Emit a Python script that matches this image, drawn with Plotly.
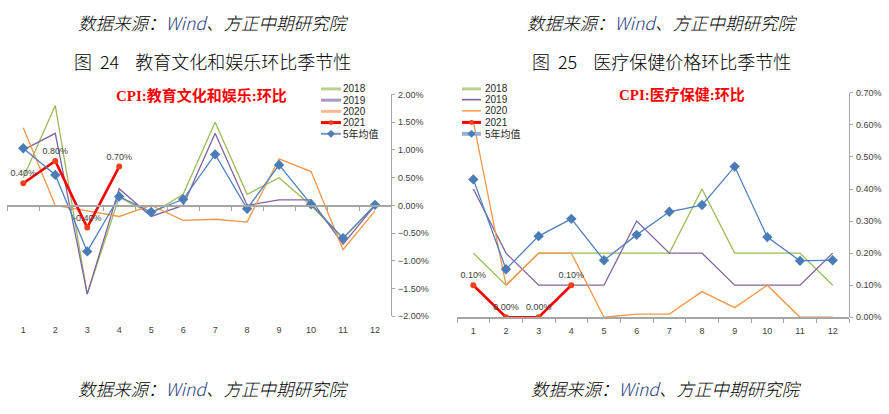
import plotly.graph_objects as go

W, H = 889, 414

months = list(range(1, 13))
month_labels = [str(m) for m in months]
boundaries = [m + 0.5 for m in range(0, 13)]

# 图24 教育文化和娱乐 环比 (%)
edu_2018 = [0.5, 1.8, -1.6, 0.15, -0.15, 0.2, 1.5, 0.2, 0.5, 0.0, -0.6, 0.0]
edu_2019 = [1.0, 1.3, -1.6, 0.3, -0.2, 0.0, 1.3, 0.0, 0.1, 0.1, -0.7, 0.0]
edu_2020 = [1.4, 0.0, -0.1, -0.2, 0.0, -0.27, -0.25, -0.3, 0.84, 0.61, -0.8, -0.1]
edu_2021 = [0.4, 0.8, -0.4, 0.7]
edu_avg = [1.03, 0.55, -0.83, 0.16, -0.12, 0.11, 0.92, -0.06, 0.73, 0.02, -0.59, 0.01]

# 图25 医疗保健 环比 (%)
med_2018 = [0.2, 0.1, 0.2, 0.2, 0.2, 0.2, 0.2, 0.4, 0.2, 0.2, 0.2, 0.1]
med_2019 = [0.4, 0.2, 0.1, 0.1, 0.1, 0.3, 0.2, 0.2, 0.1, 0.1, 0.1, 0.2]
med_2020 = [0.61, 0.1, 0.2, 0.2, 0.0, 0.01, 0.01, 0.08, 0.03, 0.1, 0.0, 0.0]
med_2021 = [0.1, 0.0, 0.0, 0.1]
med_avg = [0.43, 0.15, 0.253, 0.307, 0.178, 0.257, 0.329, 0.35, 0.47, 0.25, 0.176, 0.178]

series_names = ["2018", "2019", "2020", "2021", "5年均值"]

GREEN, PURPLE, ORANGE, RED, BLUE = "#9BBB59", "#8064A2", "#F79646", "#FF0000", "#4F81BD"
AXIS = "#A6A6A6"
TICKFONT = dict(family="Liberation Sans Narrow, Liberation Sans, Arial", size=9, color="#404040")
CJK = "Noto Sans CJK SC"


def px(x, y):
    return x / W, 1 - y / H


# geometry (pixels)
L = dict(x0=7.3, x1=391.0, ytop=91.7, ybot=319.0)
R = dict(x0=457.0, x1=849.0, ytop=90.0, ybot=320.0)


def dom(g):
    return [g["x0"] / W, g["x1"] / W], [1 - g["ybot"] / H, 1 - g["ytop"] / H]


Lx, Ly = dom(L)
Rx, Ry = dom(R)

fig = go.Figure()


def add_panel(xa, ya, s2018, s2019, s2020, s2021, savg):
    fig.add_trace(go.Scatter(x=months, y=s2018, mode="lines", line=dict(color=GREEN, width=1.3),
                             xaxis=xa, yaxis=ya, showlegend=False, name="2018"))
    fig.add_trace(go.Scatter(x=months, y=s2019, mode="lines", line=dict(color=PURPLE, width=1.3),
                             xaxis=xa, yaxis=ya, showlegend=False, name="2019"))
    fig.add_trace(go.Scatter(x=months, y=s2020, mode="lines", line=dict(color=ORANGE, width=1.3),
                             xaxis=xa, yaxis=ya, showlegend=False, name="2020"))
    fig.add_trace(go.Scatter(x=months[:len(s2021)], y=s2021, mode="lines+markers+text",
                             line=dict(color=RED, width=2.6),
                             marker=dict(color="#F0401A", size=6, line=dict(width=0)),
                             text=[f"{v:.2f}%" for v in s2021], textposition="top center",
                             textfont=TICKFONT,
                             xaxis=xa, yaxis=ya, showlegend=False, name="2021"))
    fig.add_trace(go.Scatter(x=months, y=savg, mode="lines+markers",
                             line=dict(color=BLUE, width=1.3),
                             marker=dict(symbol="diamond", color="#4A7CB8", size=8, line=dict(width=0)),
                             xaxis=xa, yaxis=ya, showlegend=False, name="5年均值"))


add_panel("x", "y", edu_2018, edu_2019, edu_2020, edu_2021, edu_avg)
add_panel("x2", "y2", med_2018, med_2019, med_2020, med_2021, med_avg)

# dummy traces so that the tick-mark overlay axes get drawn
fig.add_trace(go.Scatter(x=[None], y=[None], xaxis="x3", yaxis="y", showlegend=False, hoverinfo="skip"))
fig.add_trace(go.Scatter(x=[None], y=[None], xaxis="x4", yaxis="y2", showlegend=False, hoverinfo="skip"))

label_x = dict(range=[0.5, 12.5], tickmode="array", tickvals=months, ticktext=month_labels,
               ticks="", showline=False, zeroline=False, showgrid=False, tickfont=TICKFONT,
               ticklabelstandoff=7, fixedrange=True)
tick_x = dict(range=[0.5, 12.5], tickmode="array", tickvals=boundaries, showticklabels=False,
              ticks="outside", ticklen=4, tickcolor=AXIS, showline=True, linecolor=AXIS, linewidth=1.3,
              zeroline=False, showgrid=False, anchor="free", fixedrange=True)
y_common = dict(side="right", showline=True, linecolor=AXIS, linewidth=1.3, ticks="outside", ticklen=3,
                tickcolor=AXIS, tickformat=".2f", ticksuffix="%", zeroline=False, showgrid=False,
                tickfont=TICKFONT, ticklabelstandoff=1, fixedrange=True)

zero_left = Ly[0] + (Ly[1] - Ly[0]) * (0 - (-2)) / 4

fig.update_layout(
    width=W, height=H,
    margin=dict(l=0, r=0, t=0, b=0),
    paper_bgcolor="white", plot_bgcolor="rgba(0,0,0,0)",
    showlegend=False,
    xaxis=dict(domain=Lx, anchor="y", **label_x),
    yaxis=dict(domain=Ly, anchor="x", range=[-2, 2], dtick=0.5, tick0=0, **y_common),
    xaxis2=dict(domain=Rx, anchor="y2", **label_x),
    yaxis2=dict(domain=Ry, anchor="x2", range=[0, 0.7], dtick=0.1, tick0=0, **y_common),
    xaxis3=dict(domain=Lx, overlaying="x", position=zero_left, **tick_x),
    xaxis4=dict(domain=Rx, overlaying="x2", position=Ry[0], **tick_x),
)

annotations = []


def text(x, y, t, size, color="#000000", family=CJK, weight=None, xanchor="center"):
    fx, fy = px(x, y)
    f = dict(family=family, size=size, color=color)
    if weight is not None:
        f["weight"] = weight
    annotations.append(dict(x=fx, y=fy, xref="paper", yref="paper", text=t, showarrow=False,
                            xanchor=xanchor, yanchor="middle", font=f))


source = "<i>数据来源：<span style='color:#1F3A80'>Wind</span>、方正中期研究院</i>"
text(213, 18, source, 17.5, weight=300)
text(662, 18, source, 17.5, weight=300)
text(213, 393, source, 17.5, weight=300)
text(666, 393, source, 17.5, weight=300)
text(212, 57, "图  24    教育文化和娱乐环比季节性", 18, weight=300)
text(661, 57, "图  25    医疗保健价格环比季节性", 18, weight=300)

title_font = "Liberation Serif, Times New Roman, " + CJK
text(201, 93, "<b>CPI:教育文化和娱乐:环比</b>", 15, color="#FF0000", family=title_font)
text(682, 92, "<b>CPI:医疗保健:环比</b>", 15, color="#FF0000", family=title_font)

shapes = []


def legend(xl0, xl1, xt, ys, styles):
    for name, y, st in zip(series_names, ys, styles):
        a, b = px(xl0, y)
        c, _ = px(xl1, y)
        shapes.append(dict(type="line", xref="paper", yref="paper", x0=a, y0=b, x1=c, y1=b,
                           line=dict(color=st["color"], width=st["width"])))
        xm = (xl0 + xl1) / 2
        if st.get("marker") == "circle":
            r = 2.5
            p0 = px(xm - r, y - r)
            p1 = px(xm + r, y + r)
            shapes.append(dict(type="circle", xref="paper", yref="paper", x0=p0[0], y0=p1[1],
                               x1=p1[0], y1=p0[1], fillcolor="#F0401A", line=dict(width=0)))
        elif st.get("marker") == "diamond":
            h = 4
            pts = [px(xm, y - h), px(xm + h, y), px(xm, y + h), px(xm - h, y)]
            path = "M " + " L ".join(f"{p[0]:.5f},{p[1]:.5f}" for p in pts) + " Z"
            shapes.append(dict(type="path", xref="paper", yref="paper", path=path,
                               fillcolor="#4A7CB8", line=dict(width=0)))
        text(xt, y, name, 10, color="#262626",
             family="Liberation Sans Narrow, Liberation Sans, " + CJK, xanchor="left")


legend(321, 341, 341, [86, 97.5, 109, 120.5, 132], [
    dict(color="#BCCF92", width=3), dict(color="#A899C4", width=3), dict(color="#F9B98A", width=3),
    dict(color=RED, width=3, marker="circle"), dict(color="#6F96C8", width=2, marker="diamond")])
legend(462, 481, 482.5, [86, 97, 108.5, 120.3, 132], [
    dict(color="#BCCF92", width=3), dict(color=PURPLE, width=1.6), dict(color=ORANGE, width=1.4),
    dict(color=RED, width=3, marker="circle"), dict(color="#95B3D7", width=4, marker="diamond")])

fig.update_layout(annotations=annotations, shapes=shapes)

fig.write_html("out.html", config={"displayModeBar": False, "staticPlot": True},
               post_script="document.body.style.margin='0';document.body.style.overflow='hidden';")
